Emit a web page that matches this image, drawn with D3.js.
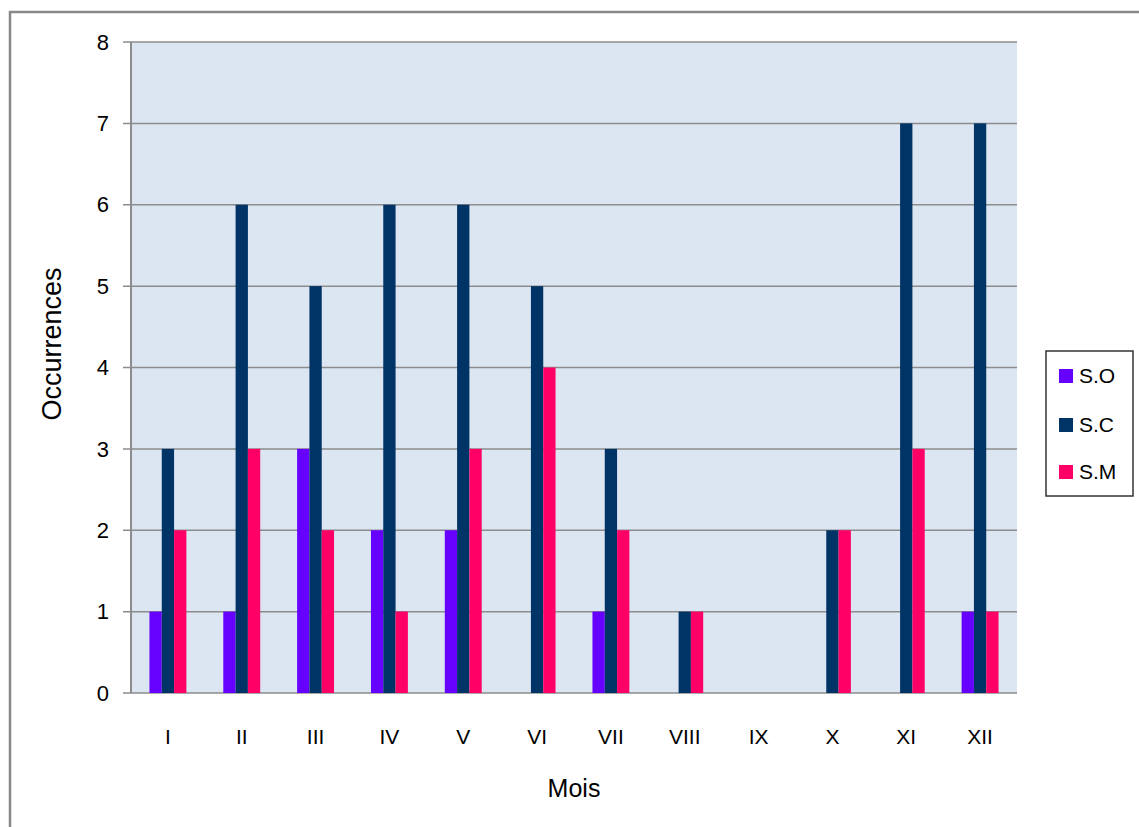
<!DOCTYPE html>
<html><head><meta charset="utf-8">
<script src="https://cdn.jsdelivr.net/npm/d3@7"></script>
<style>body{margin:0;background:#fff;}svg{display:block;}</style>
</head><body>
<script>
const months = ["I","II","III","IV","V","VI","VII","VIII","IX","X","XI","XII"];
const seriesNames = ["S.O","S.C","S.M"];
const soValues = [1,1,3,2,2,0,1,0,0,0,0,1];
const scValues = [3,6,5,6,6,5,3,1,0,2,7,7];
const smValues = [2,3,2,1,3,4,2,1,0,2,3,1];
const yTicks = [0,1,2,3,4,5,6,7,8];
const colors = ["#6600FF","#003366","#FF0066"];

const W = 1139, H = 827;
const FONT = "Liberation Sans, Arial, sans-serif";
const svg = d3.select("body").append("svg").attr("width", W).attr("height", H);
svg.append("rect").attr("x", 10).attr("y", 12).attr("width", W + 10).attr("height", H + 10)
  .attr("fill", "#fff").attr("stroke", "#888").attr("stroke-width", 2.5);

const L = 131, R = 1017, T = 42, B = 693;
const x = d3.scaleBand().domain(months).range([L, R]);
const y = d3.scaleLinear().domain([0, 8]).range([B, T]);
const barW = x.bandwidth() / 6;
const xs = d3.scaleBand().domain(seriesNames).range([0, barW * 3]);

svg.append("rect").attr("x", L).attr("y", T).attr("width", R - L).attr("height", B - T).attr("fill", "#DCE6F2");

// gridlines
svg.append("g").selectAll("line").data(yTicks).join("line")
  .attr("x1", L - 8).attr("x2", R).attr("y1", d => y(d)).attr("y2", d => y(d))
  .attr("stroke", "#8c8c8c").attr("stroke-width", 1.5);

const data = [soValues, scValues, smValues];
const g = svg.append("g");
data.forEach((vals, si) => {
  g.selectAll(null).data(vals.map((v, i) => ({m: months[i], v}))).join("rect")
    .filter(d => d.v > 0)
    .attr("x", d => x(d.m) + x.bandwidth() / 2 - barW * 1.5 + xs(seriesNames[si]))
    .attr("y", d => y(d.v)).attr("width", barW).attr("height", d => y(0) - y(d.v))
    .attr("fill", colors[si]);
});

// axis line left
svg.append("line").attr("x1", L).attr("x2", L).attr("y1", T).attr("y2", B)
  .attr("stroke", "#8c8c8c").attr("stroke-width", 2);

// y tick labels
svg.append("g").selectAll("text").data(yTicks).join("text")
  .attr("x", 109).attr("y", d => y(d)).attr("dy", "0.35em").attr("text-anchor", "end")
  .attr("font-family", FONT).attr("font-size", 22).attr("fill", "#000")
  .text(d => d);

// x tick labels
svg.append("g").selectAll("text").data(months).join("text")
  .attr("x", d => x(d) + x.bandwidth() / 2).attr("y", 737).attr("dy", "0.35em").attr("text-anchor", "middle")
  .attr("font-family", FONT).attr("font-size", 21).attr("fill", "#000")
  .text(d => d);

// axis titles
svg.append("text").attr("x", 574).attr("y", 788).attr("dy", "0.35em").attr("text-anchor", "middle")
  .attr("font-family", FONT).attr("font-size", 25).text("Mois");
svg.append("text").attr("transform", "translate(52,344) rotate(-90)").attr("dy", "0.35em").attr("text-anchor", "middle")
  .attr("font-family", FONT).attr("font-size", 27).text("Occurrences");

// legend
const lg = svg.append("g");
lg.append("rect").attr("x", 1046).attr("y", 351).attr("width", 87).attr("height", 145)
  .attr("fill", "#fff").attr("stroke", "#333").attr("stroke-width", 1.5);
const ly = [376, 425, 472];
seriesNames.forEach((n, i) => {
  lg.append("rect").attr("x", 1059).attr("y", ly[i] - 7).attr("width", 14).attr("height", 14).attr("fill", colors[i]);
  lg.append("text").attr("x", 1079).attr("y", ly[i]).attr("dy", "0.35em")
    .attr("font-family", FONT).attr("font-size", 21).text(n);
});
</script>
</body></html>
